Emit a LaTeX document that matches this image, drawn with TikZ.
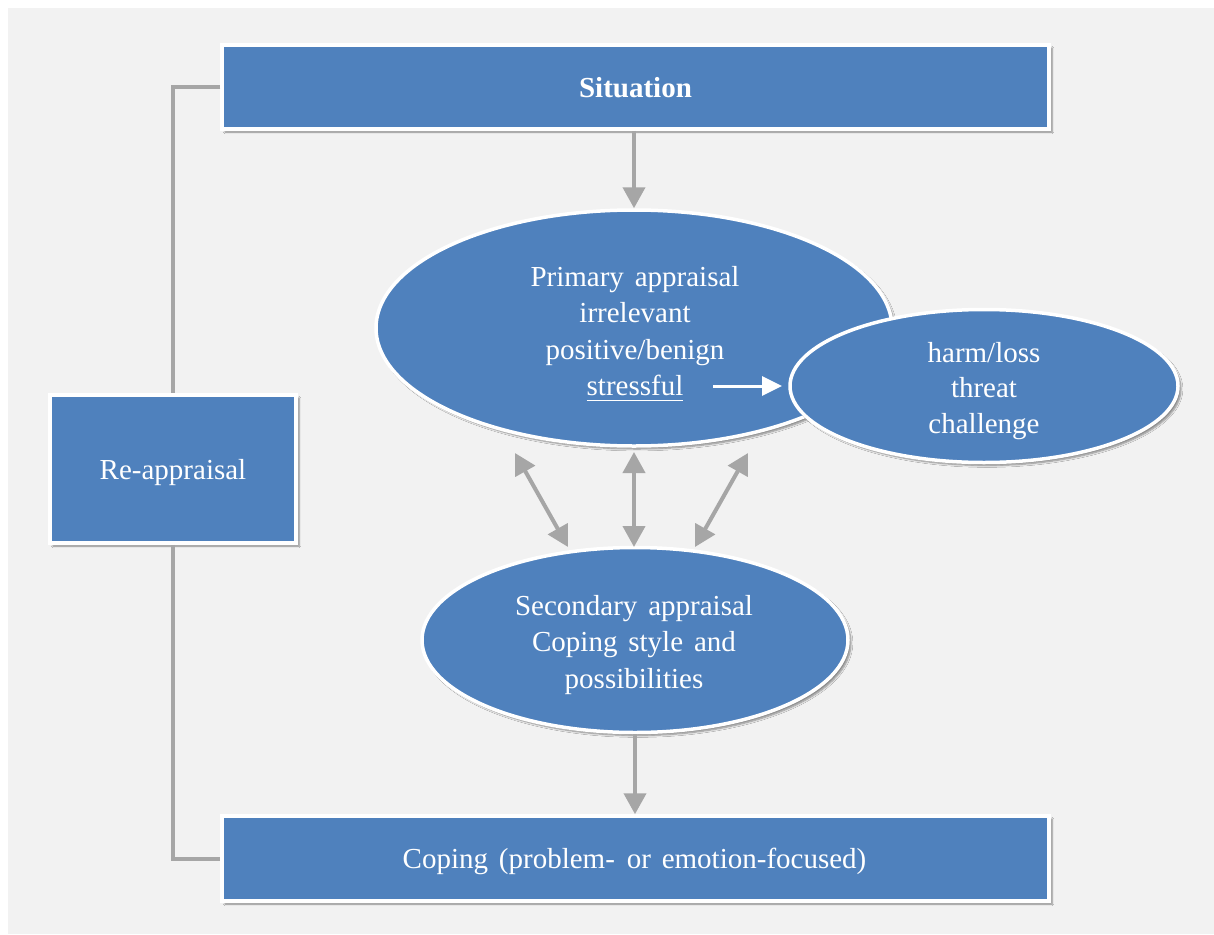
\documentclass[tikz,border=0pt]{standalone}
\usepackage{fontspec}
\setmainfont{Liberation Serif}[WordSpace=1.5]
\usetikzlibrary{shapes.geometric,arrows.meta,shadows.blur}
\definecolor{boxblue}{HTML}{4F81BD}
\definecolor{conngray}{HTML}{A6A6A6}
\definecolor{bggray}{HTML}{F2F2F2}
\newcommand\lowuline[1]{\setbox0\hbox{#1}\rlap{\smash{\rule[-6pt]{\wd0}{1.7pt}}}#1}
\begin{document}
\begin{tikzpicture}[x=1pt,y=-1pt,
  shape base/.style={draw=white, line width=3.5pt, fill=boxblue,
    inner sep=0pt,
    blur shadow={shadow xshift=3pt, shadow yshift=-3pt, shadow blur steps=6, shadow opacity=45}},
  rectbox/.style={shape base, rectangle},
  ellbox/.style={shape base, ellipse},
  txt/.style={text=white, align=center, inner sep=0pt,
    font=\fontsize{29}{36}\selectfont},
  conn/.style={draw=conngray, line width=4pt},
  grayarrow/.style={conn, -{Triangle[length=21pt,width=22pt]}},
  dblarrow/.style={conn, {Triangle[length=21pt,width=22pt]}-{Triangle[length=21pt,width=22pt]}},
  whitearrow/.style={draw=white, line width=3pt, -{Triangle[length=20pt,width=19pt]}}
]
\useasboundingbox (0,0) rectangle (1214,934);
\fill[bggray] (8,8) rectangle (1214,934);

\node[rectbox, minimum width=827pt, minimum height=84pt] (sit) at (635.5,87) {};
\node[rectbox, minimum width=246pt, minimum height=148pt] (re) at (173,469) {};
\node[rectbox, minimum width=827pt, minimum height=85pt] (cop) at (635.5,858.5) {};

\node[ellbox, minimum width=516pt, minimum height=236pt] (prim) at (634,328) {};
\node[ellbox, minimum width=388pt, minimum height=153pt] (harm) at (984,386) {};
\node[ellbox, minimum width=426pt, minimum height=185pt] (sec) at (635,640) {};

\node[txt, font=\fontsize{29}{36}\selectfont\bfseries] (sittext) at (635.5,88) {Situation};
\node[txt] (retext) at (173,472.3) {Re-appraisal};
\node[txt] (coptext) at (634.5,861) {Coping (problem- \hspace{1pt}or emotion-focused)};
\node[txt, font=\fontsize{29}{36.3}\selectfont] (primtext) at (635,331)
  {Primary appraisal\\irrelevant\\positive/benign\\\lowuline{stressful}};
\node[txt, font=\fontsize{29}{35.5}\selectfont] (harmtext) at (984,390.8) {harm/loss\\threat\\challenge};
\node[txt, font=\fontsize{29}{36.5}\selectfont] (sectext) at (634,645) {Secondary appraisal\\Coping style and\\possibilities};

\draw[conn] (sit.west) -| (re.north);
\draw[conn] (re.south) |- (cop.west);
\draw[grayarrow] (sit.south -| prim.north) -- (prim.north);
\draw[grayarrow] (sec.south) -- (sec.south |- cop.north);

\coordinate (l1) at (515,453);
\coordinate (l2) at (568,547);
\coordinate (m1) at (634,452);
\coordinate (m2) at (634,547);
\coordinate (r1) at (748,453);
\coordinate (r2) at (695,547);
\draw[dblarrow] (l1) -- (l2);
\draw[dblarrow] (m1) -- (m2);
\draw[dblarrow] (r1) -- (r2);

\coordinate (w1) at (713,386);
\coordinate (w2) at (782,386);
\draw[whitearrow] (w1) -- (w2);
\end{tikzpicture}
\end{document}
